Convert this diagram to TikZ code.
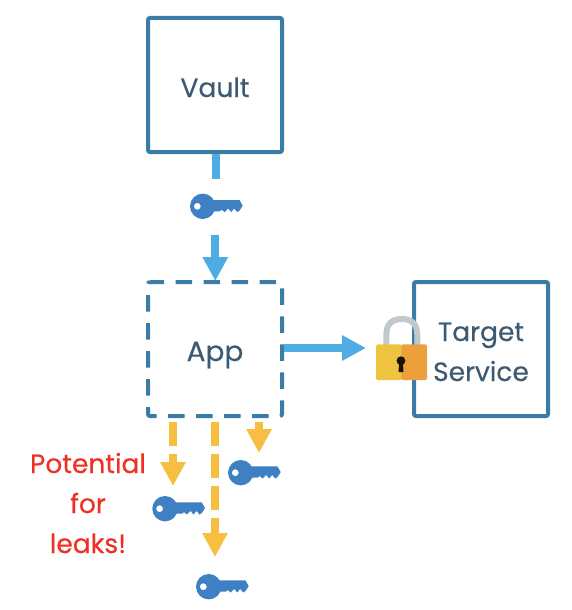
\documentclass[tikz,border=0pt]{standalone}
\usepackage{fontspec}
\setmainfont{Poppins}
\usetikzlibrary{arrows.meta}
\definecolor{boxc}{HTML}{3A7CA5}
\definecolor{bluec}{HTML}{4DADE2}
\definecolor{yelc}{HTML}{F7BF42}
\definecolor{keyc}{HTML}{3F80C3}
\definecolor{txtc}{HTML}{3D5A73}
\definecolor{redc}{HTML}{EE3124}
\definecolor{lockY}{HTML}{EEC33F}
\definecolor{lockO}{HTML}{ECA03C}
\definecolor{lockG}{HTML}{C1C9CD}
\tikzset{
  x=1pt,y=-1pt,
  boxn/.style={draw=boxc,line width=4pt,rounded corners=2pt,minimum width=134pt,minimum height=134pt,inner sep=0pt},
  appn/.style={minimum width=134pt,minimum height=134pt,inner sep=0pt,outer sep=0pt},
  dashline/.style={draw=boxc,line width=4pt,rounded corners=2pt,dash pattern=on 16.5pt off 11.5pt,dash phase=2.5pt},
  boxtxt/.style={text=txtc,font=\fontsize{26.5}{32}\selectfont\addfontfeature{FakeBold=0.4},inner sep=0pt,anchor=base},
  flow/.style={line width=8pt,draw=bluec},
  flowarrow/.style={flow,-{Triangle[length=24pt,width=24pt,fill=bluec]}},
  leak/.style={line width=8pt,draw=yelc,dash pattern=on 24pt off 8pt,-{Triangle[length=24pt,width=24pt,fill=yelc]}},
  redtxt/.style={text=redc,font=\fontsize{26.5}{32}\selectfont\addfontfeature{FakeBold=0.4},inner sep=0pt,anchor=base},
  key/.pic={
    \fill[keyc] (8,-6.3) -- (36.8,-6.3) -- (40,-0.6) -- (36.8,4.3) -- (34.5,5.8) -- (31.5,2.2) -- (28.5,5.8) -- (25.5,2.2) -- (22,5.8) -- (19,3.4) -- (17,5) -- (10,5) -- cycle;
    \fill[keyc,even odd rule] (0,0) circle[radius=12.7] (-5.4,0) circle[radius=3.5];
  }
}
\begin{document}
\begin{tikzpicture}
\useasboundingbox (0,0) rectangle (572,610);
\node[boxn] (vault) at (215,85) {};
\node[appn] (app) at (215,349) {};
\draw[dashline] (app.north west) -- (app.north east) -- (app.south east) -- (app.south west) -- cycle;
\node[boxn] (target) at (481,349) {};
\node[boxtxt] (vaulttxt) at (215,97) {Vault};
\node[boxtxt,font=\fontsize{28}{32}\selectfont\addfontfeature{FakeBold=0.4}] (apptxt) at (215,361) {App};
\node[boxtxt] (targettxt) at (481,341) {Target};
\node[boxtxt] (servicetxt) at (481,381) {Service};
\coordinate (key1) at (202.7,206.3);
\coordinate (key2) at (240.7,472.7);
\coordinate (key3) at (165,508.7);
\coordinate (key4) at (208.7,586.7);
\pic at (key1) {key};
\pic at (key2) {key};
\pic at (key3) {key};
\pic at (key4) {key};
% connectors
\coordinate (keyout) at (216,179);
\coordinate (keyin) at (215.3,235);
\coordinate (lockin) at (366,348);
\draw[flow] ([xshift=1pt]vault.south) -- (keyout);
\draw[flowarrow] (keyin) -- ([xshift=0.3pt,yshift=1pt]app.north);
\draw[flowarrow] ([yshift=1pt,xshift=2pt]app.east) -- (lockin);
\coordinate (leakA) at (173,486);
\coordinate (leakB) at (215,557);
\coordinate (leakC) at (259,453);
\draw[leak] ([xshift=-42pt,yshift=-6pt]app.south) -- (leakA);
\draw[leak] ([yshift=-6pt]app.south) -- (leakB);
\draw[leak] ([xshift=44pt,yshift=-6pt]app.south) -- (leakC);
% lock
\draw[lockG,line width=6pt] (386.3,346) -- (386.3,335) .. controls (386.3,324) and (392,319) .. (401.8,319) .. controls (411.6,319) and (417.3,324) .. (417.3,335) -- (417.3,346);
\fill[lockY,rounded corners=1.5pt] (376,344.3) rectangle (402,380);
\fill[lockO,rounded corners=1.5pt] (401.3,344.3) rectangle (427,380);
\fill[black!90!lockY] (401,360.7) circle[radius=4.4];
\fill[black!90!lockY] (399,361) -- (403,361) -- (403.4,372) -- (398.6,372) -- cycle;
\node[redtxt] (potential) at (88,473) {Potential};
\node[redtxt] (fortxt) at (88,513) {for};
\node[redtxt] (leaks) at (88,553) {leaks!};
\end{tikzpicture}
\end{document}
